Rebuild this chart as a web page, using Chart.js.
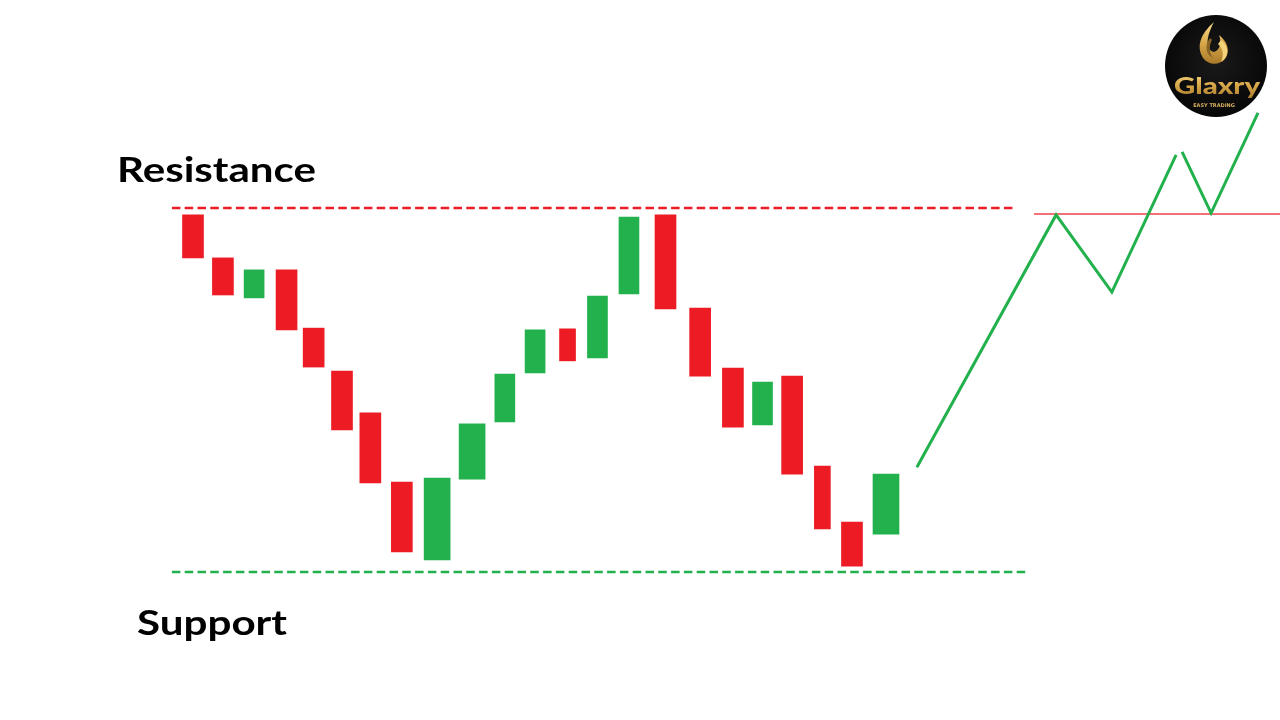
<!DOCTYPE html>
<html>
<head>
<meta charset="utf-8">
<script src="https://cdn.jsdelivr.net/npm/chart.js@4.4.1/dist/chart.umd.min.js"></script>
<style>
  html, body { margin: 0; padding: 0; background: #ffffff; }
  #wrap { position: relative; width: 1280px; height: 720px; overflow: hidden; }
  #c { position: absolute; left: 0; top: 0; }
  #overlay { position: absolute; left: 0; top: 0; }
</style>
</head>
<body>
<div id="wrap">
  <canvas id="c" width="1280" height="720"></canvas>
  <svg id="overlay" width="1280" height="720" viewBox="0 0 1280 720">
    <defs>
      <linearGradient id="gold" x1="0" y1="0" x2="0" y2="1">
        <stop offset="0" stop-color="#f7dc8a"/>
        <stop offset="0.5" stop-color="#d9a84a"/>
        <stop offset="1" stop-color="#a8792a"/>
      </linearGradient>
      <radialGradient id="disc" cx="0.5" cy="0.45" r="0.6">
        <stop offset="0" stop-color="#1a1a1a"/>
        <stop offset="1" stop-color="#050505"/>
      </radialGradient>
    </defs>
    <text x="117" y="182" font-family="Lato, 'Open Sans', sans-serif" font-weight="700" font-size="34" fill="#000000" textLength="199" lengthAdjust="spacingAndGlyphs">Resistance</text>
    <text x="137" y="635" font-family="Lato, 'Open Sans', sans-serif" font-weight="700" font-size="34" fill="#000000" textLength="150" lengthAdjust="spacingAndGlyphs">Support</text>
    <g id="logo">
      <circle cx="1216" cy="66" r="51" fill="url(#disc)"/>
      <path d="M1214,22 C1200,34 1196,47 1203,58 C1208,65 1219,66 1225,59 C1231,51 1227,41 1219,35 C1222,43 1220,50 1214,52 C1206,50 1205,39 1214,22 Z" fill="url(#gold)"/>
      <path d="M1221,40 C1230,47 1229,57 1221,62 C1224,55 1223,48 1218,44 Z" fill="#f3d27a"/>
      <path d="M1210,38 C1204,46 1206,55 1213,58 C1209,52 1209,45 1212,40 Z" fill="#8a6424"/>
      <text x="1174" y="94" font-family="Lato, 'Open Sans', sans-serif" font-weight="900" font-size="23" fill="url(#gold)" textLength="86" lengthAdjust="spacingAndGlyphs">Glaxry</text>
      <text x="1214" y="107" text-anchor="middle" font-family="'DejaVu Sans', sans-serif" font-weight="700" font-size="5" fill="#d9b060">EASY TRADING</text>
    </g>
  </svg>
</div>
<script>
// ---- Data (price units: support = 0, resistance = 100) ----
const candleTimes  = [0, 0.95, 1.94, 2.97, 3.83, 4.73, 5.63, 6.63, 7.75, 8.86, 9.9, 10.86, 11.89, 12.84, 13.84, 15, 16.1, 17.14, 18.08, 19.02, 19.98, 20.92, 22];
const candleOpen   = [98.1, 86.3, 75.3, 83.0, 67.0, 55.2, 43.7, 24.7, 3.3, 25.5, 41.2, 54.7, 66.8, 58.8, 76.4, 98.1, 72.5, 56.0, 40.4, 53.8, 29.1, 13.7, 10.4];
const candleClose  = [86.3, 76.1, 83.0, 66.5, 56.3, 39.0, 24.5, 5.5, 25.8, 40.7, 54.4, 66.5, 58.0, 75.8, 97.5, 72.3, 53.8, 39.8, 52.2, 26.9, 11.8, 1.6, 26.9];

const resistanceLevel = 100;
const supportLevel = 0;
const levelStart = -0.67;
const resistanceEnd = 26.1;
const supportEnd = 26.5;

const breakoutTimes  = [22.98, 27.40, 29.17, 31.21, 31.30, 31.40, 32.32, 33.81];
const breakoutPrices = [28.8, 98.1, 76.9, 114.6, null, 115.4, 98.6, 126.1];

const retestLevel = 98.35;
const retestStart = 26.7;
const retestEnd = 34.6;

// ---- Build datasets ----
const RED = '#ED1C24';
const GREEN = '#22B14C';
const wideCandles = [8, 9, 22];
const narrowCandles = [12, 20];

const redBars = [], redNarrowBars = [], greenBars = [], greenWideBars = [];
candleTimes.forEach((t, i) => {
  const pt = { x: t, y: [candleOpen[i], candleClose[i]] };
  if (candleClose[i] < candleOpen[i]) {
    if (narrowCandles.includes(i)) redNarrowBars.push(pt); else redBars.push(pt);
  }
  else if (wideCandles.includes(i)) greenWideBars.push(pt);
  else greenBars.push(pt);
});

const breakoutData = breakoutTimes.map((t, i) => ({ x: t, y: breakoutPrices[i] }));

new Chart(document.getElementById('c'), {
  type: 'bar',
  data: {
    datasets: [
      { type: 'line', data: [{x: levelStart, y: resistanceLevel}, {x: resistanceEnd, y: resistanceLevel}],
        borderColor: RED, borderWidth: 2.6, borderDash: [8.5, 4.3], pointRadius: 0, order: 5 },
      { type: 'line', data: [{x: levelStart, y: supportLevel}, {x: supportEnd, y: supportLevel}],
        borderColor: GREEN, borderWidth: 2.6, borderDash: [8.5, 4.3], pointRadius: 0, order: 5 },
      { type: 'line', data: [{x: retestStart, y: retestLevel}, {x: retestEnd, y: retestLevel}],
        borderColor: '#EE4148', borderWidth: 1.5, pointRadius: 0, order: 4 },
      { type: 'line', data: breakoutData, borderColor: GREEN, borderWidth: 3,
        pointRadius: 0, spanGaps: false, tension: 0, order: 3 },
      { data: redBars, backgroundColor: RED, barThickness: 21, grouped: false, order: 1 },
      { data: redNarrowBars, backgroundColor: RED, barThickness: 16, grouped: false, order: 1 },
      { data: greenBars, backgroundColor: GREEN, barThickness: 20, grouped: false, order: 1 },
      { data: greenWideBars, backgroundColor: GREEN, barThickness: 26, grouped: false, order: 1 }
    ]
  },
  options: {
    responsive: false,
    animation: false,
    devicePixelRatio: 1,
    layout: { padding: 0 },
    plugins: { legend: { display: false }, tooltip: { enabled: false } },
    scales: {
      x: { type: 'linear', display: false, offset: false, min: -6.127, max: 34.508 },
      y: { type: 'linear', display: false, min: -40.66, max: 157.14 }
    }
  }
});
</script>
</body>
</html>
